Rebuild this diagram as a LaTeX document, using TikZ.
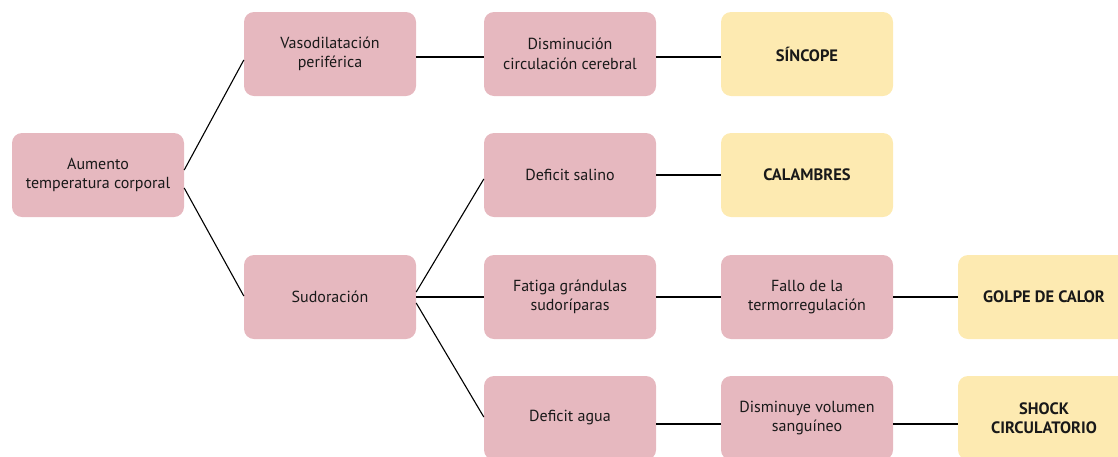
\documentclass[tikz,border=0pt]{standalone}
\usepackage{fontspec}
\setmainfont{PT Sans}
\definecolor{pinkbox}{RGB}{230,184,191}
\definecolor{yelbox}{RGB}{253,234,177}
\definecolor{txt}{RGB}{25,25,25}
\tikzset{
  box/.style={rectangle, rounded corners=10pt, minimum width=172pt, minimum height=84pt,
    inner sep=0pt, align=center, text=txt, font=\fontsize{16}{19.5}\selectfont},
  cause/.style={box, fill=pinkbox},
  result/.style={box, fill=yelbox, font=\fontsize{16.5}{19.5}\selectfont\bfseries},
  link/.style={draw=black, line width=1.1pt}
}
\begin{document}
\begin{tikzpicture}[x=1pt,y=-1pt]
\useasboundingbox (0,0) rectangle (1118,456);
\clip (0,0) rectangle (1118,456);
% nodes
\node[cause] (aum) at (98,175) {Aumento\\temperatura corporal};
\node[cause] (vaso) at (330,54) {Vasodilatación\\periférica};
\node[cause] (sudo) at (330,297) {Sudoración};
\node[cause] (dism) at (570,54) {Disminución\\circulación cerebral};
\node[result] (sinc) at (807,54) {SÍNCOPE};
\node[cause] (sal) at (570,175) {Deficit salino};
\node[result] (cal) at (807,175) {CALAMBRES};
\node[cause] (fat) at (570,297) {Fatiga grándulas\\sudoríparas};
\node[cause] (fallo) at (807,297) {Fallo de la\\termorregulación};
\node[result] (golpe) at (1044,297) {GOLPE DE CALOR};
\node[cause] (agua) at (570,418) {Deficit agua};
\node[cause] (vol) at (807,418) {Disminuye volumen\\sanguíneo};
\node[result] (shock) at (1044,418) {SHOCK\\CIRCULATORIO};
% connectors
\draw[link] ([yshift=5pt]aum.east) -- ([yshift=-6pt]vaso.west);
\draw[link] ([yshift=-13pt]aum.east) -- ([yshift=1pt]sudo.west);
\draw[link] ([yshift=-3pt]vaso.east) -- ([yshift=-3pt]dism.west);
\draw[link] ([yshift=-3pt]dism.east) -- ([yshift=-3pt]sinc.west);
\draw[link] ([yshift=5pt]sudo.east) -- ([yshift=-4pt]sal.west);
\draw[link] (sudo.east) -- (fat.west);
\draw[link] ([yshift=-6pt]sudo.east) -- ([yshift=1pt]agua.west);
\draw[link] (sal.east) -- (cal.west);
\draw[link] (fat.east) -- (fallo.west);
\draw[link] (fallo.east) -- (golpe.west);
\draw[link] ([yshift=-6pt]agua.east) -- ([yshift=-6pt]vol.west);
\draw[link] ([yshift=-6pt]vol.east) -- ([yshift=-6pt]shock.west);
\end{tikzpicture}
\end{document}
